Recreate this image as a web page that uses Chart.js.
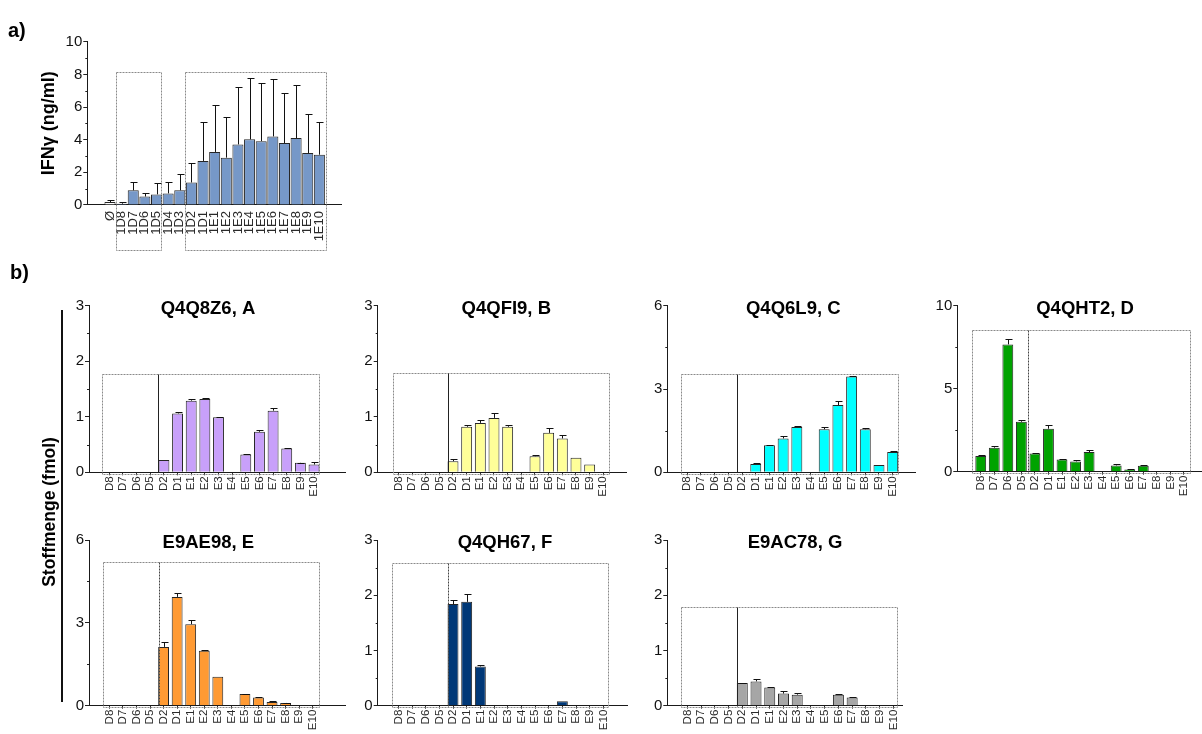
<!DOCTYPE html>
<html>
<head>
<meta charset="utf-8">
<script src="https://cdn.jsdelivr.net/npm/chart.js@4.4.1/dist/chart.umd.min.js"></script>
<style>
  html, body { margin: 0; padding: 0; background: #fff; }
  #fig { position: relative; width: 1202px; height: 734px; overflow: hidden; background: #fff;
         font-family: "Liberation Sans", Arial, sans-serif; }
  #fig canvas { position: absolute; left: 0; top: 0; }
  .lbl { position: absolute; font-weight: bold; color: #000; white-space: nowrap; line-height: 1; }
  #ylab { left: 49.5px; top: 512px; font-size: 17.5px; transform: translate(-50%, -50%) rotate(-90deg); }
  #vline { position: absolute; left: 61px; top: 310px; width: 2px; height: 392px; background: #111; }
</style>
</head>
<body>
<div id="fig">
  <canvas id="cv-a" width="1202" height="800"></canvas>
  <canvas id="cv-A" width="1202" height="800"></canvas>
  <canvas id="cv-B" width="1202" height="800"></canvas>
  <canvas id="cv-C" width="1202" height="800"></canvas>
  <canvas id="cv-D" width="1202" height="800"></canvas>
  <canvas id="cv-E" width="1202" height="800"></canvas>
  <canvas id="cv-F" width="1202" height="800"></canvas>
  <canvas id="cv-G" width="1202" height="800"></canvas>
  <div class="lbl" style="left:8px;top:20px;font-size:20px">a)</div>
  <div class="lbl" style="left:10px;top:262px;font-size:20px">b)</div>
  <div class="lbl" id="ylab">Stoffmenge (fmol)</div>
  <div id="vline"></div>
</div>
<script>
// ---------- a) IFN-gamma release per fraction pool ----------
const ifnLabels = ['Ø', '1D8', '1D7', '1D6', '1D5', '1D4', '1D3', '1D2', '1D1',
                   '1E1', '1E2', '1E3', '1E4', '1E5', '1E6', '1E7', '1E8', '1E9', '1E10'];
const ifnMean = [0.18, 0.08, 0.90, 0.52, 0.65, 0.71, 0.90, 1.38, 2.70,
                 3.25, 2.90, 3.71, 4.02, 3.91, 4.20, 3.79, 4.10, 3.18, 3.08];
const ifnSd   = [0.15, 0.12, 0.52, 0.24, 0.67, 0.71, 1.00, 1.20, 2.39,
                 2.85, 2.47, 3.49, 3.78, 3.59, 3.50, 3.07, 3.22, 2.40, 2.00];

// ---------- b) protein amount per fraction ----------
const fractions = ['D8', 'D7', 'D6', 'D5', 'D2', 'D1', 'E1', 'E2', 'E3', 'E4',
                   'E5', 'E6', 'E7', 'E8', 'E9', 'E10'];

const meanQ4Q8Z6 = [0, 0, 0, 0, 0.22, 1.06, 1.29, 1.32, 0.99, 0, 0.32, 0.73, 1.11, 0.43, 0.17, 0.14];
const sdQ4Q8Z6   = [0, 0, 0, 0, 0, 0.03, 0.03, 0.01, 0.005, 0, 0.01, 0.03, 0.05, 0.01, 0.005, 0.04];

const meanQ4QFI9 = [0, 0, 0, 0, 0.20, 0.82, 0.89, 0.98, 0.82, 0, 0.29, 0.71, 0.61, 0.26, 0.14, 0];
const sdQ4QFI9   = [0, 0, 0, 0, 0.04, 0.03, 0.05, 0.09, 0.04, 0, 0.02, 0.08, 0.06, 0, 0, 0];

const meanQ4Q6L9 = [0, 0, 0, 0, 0, 0.30, 0.97, 1.22, 1.63, 0, 1.55, 2.42, 3.45, 1.55, 0.26, 0.73];
const sdQ4Q6L9   = [0, 0, 0, 0, 0, 0.02, 0.03, 0.10, 0.04, 0, 0.07, 0.14, 0.02, 0.03, 0, 0.03];

const meanQ4QHT2 = [0.94, 1.45, 7.67, 3.01, 1.10, 2.59, 0.74, 0.62, 1.18, 0, 0.38, 0.14, 0.36, 0, 0, 0];
const sdQ4QHT2   = [0.04, 0.08, 0.34, 0.08, 0.04, 0.20, 0.02, 0.06, 0.10, 0, 0.06, 0.02, 0.02, 0, 0, 0];

const meanE9AE98 = [0, 0, 0, 0, 2.13, 3.94, 2.95, 1.99, 1.05, 0, 0.42, 0.30, 0.13, 0.10, 0, 0];
const sdE9AE98   = [0, 0, 0, 0, 0.19, 0.15, 0.15, 0.01, 0, 0, 0.01, 0.03, 0.04, 0.01, 0, 0];

const meanQ4QH67 = [0, 0, 0, 0, 1.84, 1.88, 0.71, 0, 0, 0, 0, 0, 0.08, 0, 0, 0];
const sdQ4QH67   = [0, 0, 0, 0, 0.07, 0.15, 0.03, 0, 0, 0, 0, 0, 0, 0, 0, 0];

const meanE9AC78 = [0, 0, 0, 0, 0.41, 0.44, 0.33, 0.22, 0.20, 0, 0, 0.20, 0.15, 0, 0, 0];
const sdE9AC78   = [0, 0, 0, 0, 0.01, 0.04, 0.01, 0.05, 0.03, 0, 0, 0.02, 0.005, 0, 0, 0];

// ---------- layout of the individual plots (page pixels) ----------
const W = 1202, H = 800;   // canvas size; the visible figure is 1202 x 734
const FONT = '"Liberation Sans", Arial, sans-serif';

const panels = [
  { id: 'a', labels: ifnLabels, mean: ifnMean, sd: ifnSd, color: '#7698c8', firstFill: '#ffffff',
    yMax: 10, yStep: 2, px: { left: 87.3, right: 341.7, top: 41.7, zero: 205 },
    xMin: -1.95, xMax: 19.92, barFrac: 0.95, labelFont: 13, labelPad: 6, xTick: 0, cap: 3,
    yTitle: 'IFNγ (ng/ml)',
    boxes: [{ x0: 0.54, x1: 4.36, top: 8.16, drop: 45 }, { x0: 6.47, x1: 18.57, top: 8.16, drop: 45 }] },

  { id: 'A', title: 'Q4Q8Z6, A', titleAt: 7.23, labels: fractions, mean: meanQ4Q8Z6, sd: sdQ4Q8Z6, color: '#c8a0fa',
    yMax: 3, yStep: 1, px: { left: 89, right: 345, top: 305.7, zero: 472.3 }, xMin: -1.49, xMax: 17.27,
    boxes: [{ x0: -0.51, x1: 15.38, top: 1.77, drop: 1.5 }], divider: { x: 3.6, dotted: false } },

  { id: 'B', title: 'Q4QFI9, B', titleAt: 7.9, labels: fractions, mean: meanQ4QFI9, sd: sdQ4QFI9, color: '#ffff99',
    yMax: 3, yStep: 1, px: { left: 377.7, right: 626, top: 305.7, zero: 472.3 }, xMin: -1.51, xMax: 16.66,
    boxes: [{ x0: -0.37, x1: 15.43, top: 1.78, drop: 1.5 }], divider: { x: 3.66, dotted: false } },

  { id: 'C', title: 'Q4Q6L9, C', titleAt: 7.74, labels: fractions, mean: meanQ4Q6L9, sd: sdQ4Q6L9, color: '#00ffff',
    yMax: 6, yStep: 3, px: { left: 667.3, right: 915, top: 305.7, zero: 472.3 }, xMin: -1.46, xMax: 16.63,
    boxes: [{ x0: -0.46, x1: 15.37, top: 3.53, drop: 1.5 }], divider: { x: 3.64, dotted: false } },

  { id: 'D', title: 'Q4QHT2, D', titleAt: 7.7, labels: fractions, mean: meanQ4QHT2, sd: sdQ4QHT2, color: '#00a300',
    yMax: 10, yStep: 5, px: { left: 957.3, right: 1201, top: 305.7, zero: 471.7 }, xMin: -1.73, xMax: 16.26,
    boxes: [{ x0: -0.62, x1: 15.45, top: 8.54, drop: 1.5 }], divider: { x: 3.51, dotted: true } },

  { id: 'E', title: 'E9AE98, E', titleAt: 7.3, labels: fractions, mean: meanE9AE98, sd: sdE9AE98, color: '#ff9a33',
    yMax: 6, yStep: 3, px: { left: 89, right: 345, top: 540, zero: 705.7 }, xMin: -1.50, xMax: 17.38,
    boxes: [{ x0: -0.49, x1: 15.49, top: 5.22, drop: 1.5 }], divider: { x: 3.64, dotted: true } },

  { id: 'F', title: 'Q4QH67, F', titleAt: 7.8, labels: fractions, mean: meanQ4QH67, sd: sdQ4QH67, color: '#003877',
    yMax: 3, yStep: 1, px: { left: 377.7, right: 627, top: 540, zero: 705.7 }, xMin: -1.51, xMax: 16.73,
    boxes: [{ x0: -0.48, x1: 15.32, top: 2.59, drop: 1.5 }], divider: { x: 3.61, dotted: true } },

  { id: 'G', title: 'E9AC78, G', titleAt: 7.84, labels: fractions, mean: meanE9AC78, sd: sdE9AC78, color: '#a6a6a6',
    yMax: 3, yStep: 1, px: { left: 667.3, right: 902, top: 540, zero: 705.7 }, xMin: -1.46, xMax: 15.63,
    boxes: [{ x0: -0.48, x1: 15.3, top: 1.78, drop: 1.5 }], divider: { x: 3.6, dotted: false } }
];

// error whiskers, fraction boxes, minor ticks and plot titles
function makeDecor(p) {
  return {
    id: 'decor' + p.id,
    afterDatasetsDraw(chart) {
      const ctx = chart.ctx, xs = chart.scales.x, ys = chart.scales.y;
      const meta = chart.getDatasetMeta(0);
      const zeroY = ys.getPixelForValue(0);
      ctx.save();

      // fraction boxes
      ctx.lineWidth = 1;
      ctx.strokeStyle = '#8a8a8a';
      ctx.setLineDash([2, 1]);
      p.boxes.forEach(b => {
        const x0 = Math.round(xs.getPixelForValue(b.x0)) + 0.5;
        const x1 = Math.round(xs.getPixelForValue(b.x1)) + 0.5;
        const y0 = Math.round(ys.getPixelForValue(b.top)) + 0.5;
        const y1 = Math.round(zeroY + b.drop) + 0.5;
        ctx.strokeRect(x0, y0, x1 - x0, y1 - y0);
      });
      if (p.divider) {
        const b = p.boxes[0];
        const x = Math.round(xs.getPixelForValue(p.divider.x)) + 0.5;
        ctx.strokeStyle = p.divider.dotted ? '#444' : '#222';
        ctx.setLineDash(p.divider.dotted ? [2, 1] : []);
        ctx.beginPath();
        ctx.moveTo(x, Math.round(ys.getPixelForValue(b.top)) + 0.5);
        ctx.lineTo(x, Math.round(zeroY) + 0.5);
        ctx.stroke();
      }

      // upper error whiskers
      ctx.setLineDash([]);
      ctx.strokeStyle = '#111';
      const cap = p.cap || 3;
      p.mean.forEach((m, i) => {
        const e = p.sd[i];
        if (!e) return;
        const bar = meta.data[i];
        const x = Math.round(bar.x) + 0.5;
        const yt = Math.round(ys.getPixelForValue(m + e)) + 0.5;
        ctx.beginPath();
        ctx.moveTo(x, bar.y);
        ctx.lineTo(x, yt);
        ctx.moveTo(x - cap, yt);
        ctx.lineTo(x + cap + 1, yt);
        ctx.stroke();
      });

      // minor ticks on the value axis
      ctx.strokeStyle = '#222';
      ctx.beginPath();
      for (let v = p.yStep / 2; v < p.yMax; v += p.yStep) {
        const y = Math.round(ys.getPixelForValue(v)) + 0.5;
        ctx.moveTo(xs.left - 2, y);
        ctx.lineTo(xs.left, y);
      }
      ctx.stroke();

      // plot title
      if (p.title) {
        ctx.fillStyle = '#000';
        ctx.font = 'bold 18.5px ' + FONT;
        ctx.textAlign = 'center';
        ctx.textBaseline = 'alphabetic';
        ctx.fillText(p.title, xs.getPixelForValue(p.titleAt), ys.top + 1.5 + 6.6);
      }
      ctx.restore();
    }
  };
}

panels.forEach(p => {
  const WY = p.yTitle ? 48.6 : 40;
  const HX = 48;
  const xTick = p.xTick === undefined ? 3 : p.xTick;
  new Chart(document.getElementById('cv-' + p.id), {
    type: 'bar',
    data: {
      datasets: [{
        data: p.mean.map((y, i) => ({ x: i, y })),
        backgroundColor: p.mean.map((_, i) => (i === 0 && p.firstFill) ? p.firstFill : p.color),
        borderColor: '#262626',
        borderWidth: 1,
        categoryPercentage: 1,
        barPercentage: p.barFrac || 0.8
      }]
    },
    options: {
      responsive: false,
      animation: false,
      devicePixelRatio: 1,
      events: [],
      layout: {
        padding: { left: p.px.left - WY, right: W - p.px.right, top: p.px.top, bottom: H - p.px.zero - HX }
      },
      plugins: { legend: { display: false }, tooltip: { enabled: false } },
      scales: {
        x: {
          type: 'linear', min: p.xMin, max: p.xMax, offset: false,
          grid: {
            display: true, offset: false, drawOnChartArea: false,
            drawTicks: xTick > 0, tickLength: xTick, tickWidth: 1,
            tickColor: c => (p.labels[c.tick.value] !== undefined) ? '#333' : 'rgba(0,0,0,0)'
          },
          border: { display: true, color: '#1a1a1a', width: 1 },
          ticks: {
            stepSize: 1, autoSkip: false, includeBounds: false, minRotation: 90, maxRotation: 90,
            padding: p.labelPad === undefined ? 1 : p.labelPad, color: '#2a2a2a',
            font: { family: FONT, size: p.labelFont || 11.5 },
            callback: v => p.labels[v] !== undefined ? p.labels[v] : ''
          },
          afterFit: s => { s.height = HX; s.paddingLeft = 0; s.paddingRight = 0; }
        },
        y: {
          min: 0, max: p.yMax,
          grid: { display: true, drawOnChartArea: false, drawTicks: true, tickLength: 4, tickColor: '#222' },
          border: { display: true, color: '#1a1a1a', width: 1 },
          ticks: { stepSize: p.yStep, padding: 1, color: '#111', font: { family: FONT, size: 15 } },
          title: p.yTitle
            ? { display: true, text: p.yTitle, color: '#000', padding: 0, font: { family: FONT, size: 18, weight: 'bold' } }
            : { display: false },
          afterFit: s => { s.width = WY; s.paddingTop = 0; s.paddingBottom = 0; }
        }
      }
    },
    plugins: [makeDecor(p)]
  });
});
</script>
</body>
</html>
